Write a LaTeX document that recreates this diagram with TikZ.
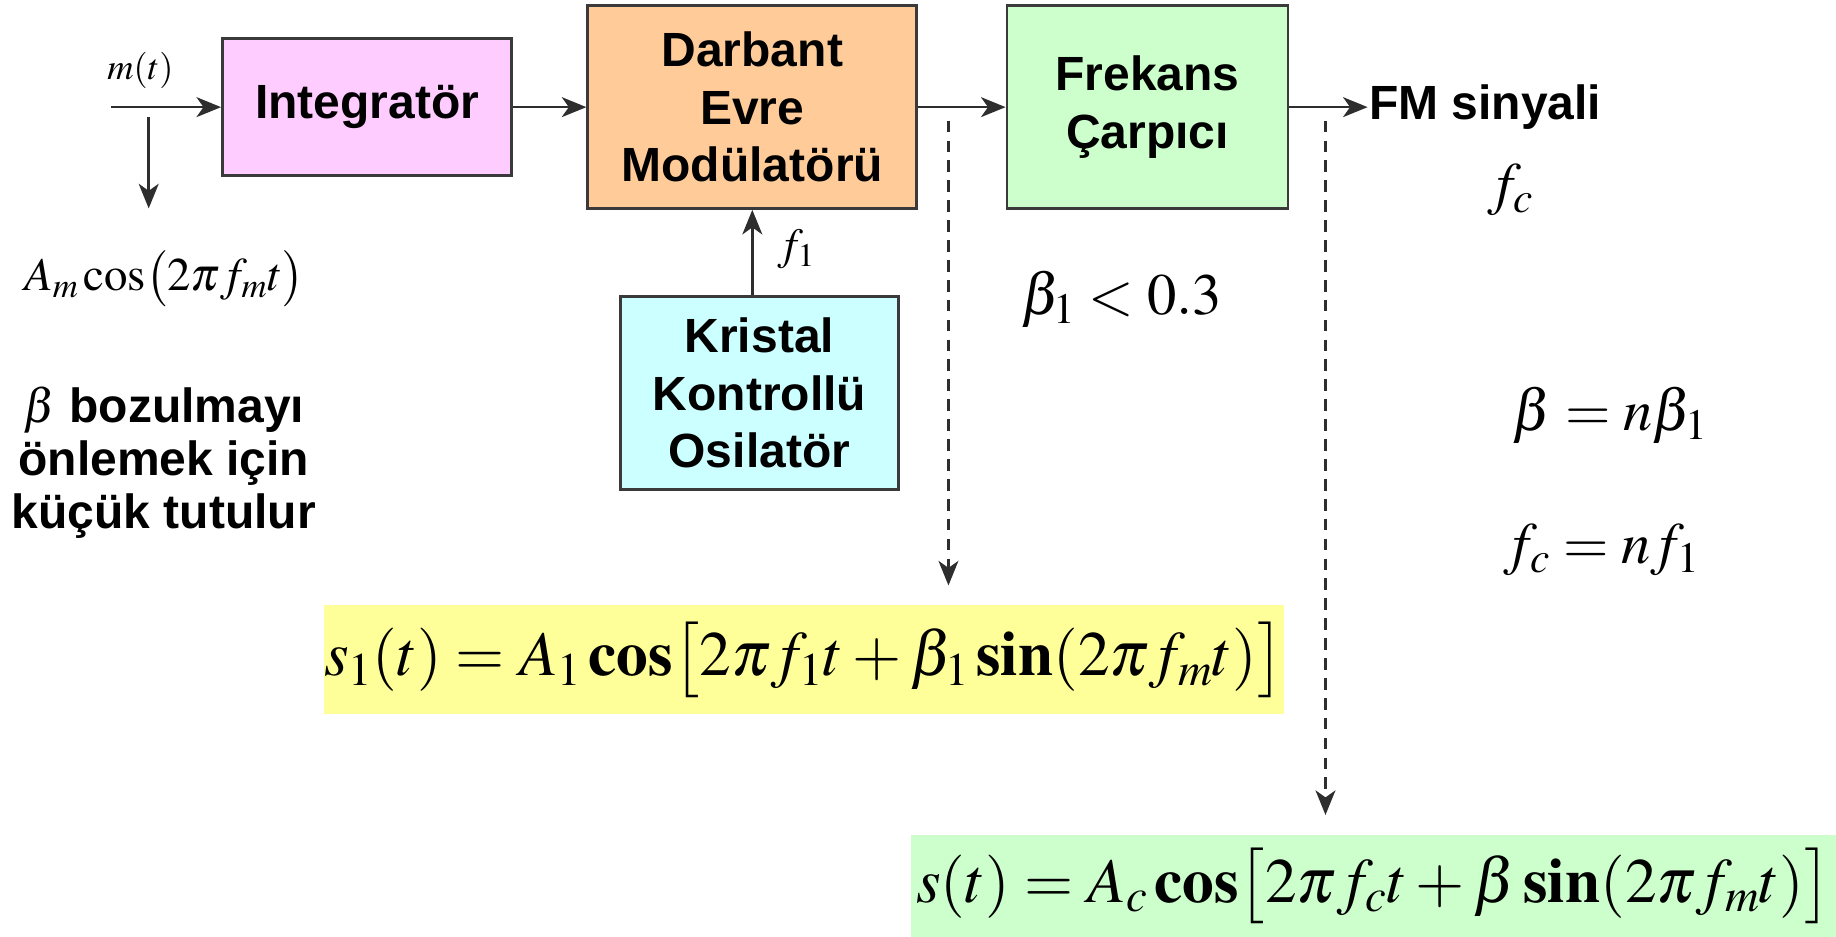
\documentclass[tikz,border=0pt]{standalone}
\usepackage{mathptmx}
\usepackage{amsmath}
\usepackage[no-math]{fontspec}
\setmainfont{Liberation Sans}
\usetikzlibrary{arrows.meta,calc}
\definecolor{pinkf}{HTML}{FFCCFF}
\definecolor{orangef}{HTML}{FFCC99}
\definecolor{greenf}{HTML}{CCFFCC}
\definecolor{cyanf}{HTML}{CCFFFF}
\definecolor{yellowf}{HTML}{FFFF99}
\definecolor{edgec}{HTML}{3A3A3A}
\definecolor{linec}{HTML}{2E2E2E}
\begin{document}
\begin{tikzpicture}[x=1pt,y=-1pt,
  blk/.style={draw=edgec, line width=2.4pt, align=center, inner sep=0pt,
    font=\fontsize{41}{49}\selectfont\bfseries},
  arr/.style={draw=linec, line width=2.3pt, -{Stealth[length=21pt,width=17pt,inset=6pt]}},
  darr/.style={arr, dash pattern=on 10pt off 7pt, line width=2pt},
  lbl/.style={inner sep=1pt, font=\fontsize{41}{45}\selectfont\bfseries, align=center},
  mth/.style={inner sep=1pt, font=\fontsize{50}{54}\selectfont},
  fbox/.style={inner sep=0pt, font=\fontsize{54}{60}\selectfont}]
\useasboundingbox (0,0) rectangle (1568,800);

% blocks
\node[blk, fill=pinkf, minimum width=247pt, minimum height=117pt] (int) at (313.5,91.5) {Integratör};
\node[blk, fill=orangef, minimum width=281pt, minimum height=173pt] (mod) at (642.5,91.5) {Darbant\\Evre\\Modülatörü};
\node[blk, fill=greenf, minimum width=240pt, minimum height=173pt] (frek) at (980,91.5) {Frekans\\Çarpıcı};
\node[blk, fill=cyanf, minimum width=237pt, minimum height=165pt] (kris) at (648.5,335.5) {Kristal\\Kontrollü\\Osilatör};

% input side
\coordinate (in) at (95,91.5);
\node[inner sep=1pt, font=\fontsize{31}{33}\selectfont] (mt) at (120,60) {$m(t)$};
\coordinate (tap) at (127,100);
\coordinate (tapend) at (127,178);
\node[inner sep=1pt, font=\fontsize{40}{44}\selectfont] (am) at (140,238) {$A_m\cos\bigl(2\pi f_m t\bigr)$};
\node[lbl] (note) at (140,395) {$\beta$ bozulmayı\\önlemek için\\küçük tutulur};

% output side
\node[lbl, anchor=west] (fm) at (1168,91.5) {FM sinyali};
\node[mth] (fc) at (1290,162) {$f_c$};
\node[mth, font=\fontsize{38}{40}\selectfont] (f1) at (680,213) {$f_1$};
\node[mth] (b1) at (958,256) {$\beta_1 < 0.3$};
\node[mth] (bn) at (1375,355) {$\beta = n\beta_1$};
\node[mth] (fcn) at (1368,470) {$f_c = nf_1$};

% formula boxes
\node[fbox, fill=yellowf, minimum width=807pt, minimum height=93pt] (yel) at (686.5,563.5)
  {$s_1(t) = A_1\,\mathbf{cos}\bigl[2\pi f_1 t + \beta_1\,\mathbf{sin}(2\pi f_m t)\bigr]$};
\node[fbox, fill=greenf, minimum width=790pt, minimum height=87pt] (grn) at (1173,757)
  {$s(t) = A_c\,\mathbf{cos}\bigl[2\pi f_c t + \beta\,\mathbf{sin}(2\pi f_m t)\bigr]$};

% dashed taps
\coordinate (d1s) at (810,103);
\coordinate (d1e) at (810,500);
\coordinate (d2s) at (1132,103);
\coordinate (d2e) at (1132,696);

% connectors
\draw[arr] (in) -- (int.west);
\draw[arr] (tap) -- (tapend);
\draw[arr] (int.east) -- (mod.west);
\draw[arr] (mod.east) -- (frek.west);
\draw[arr] (frek.east) -- (fm.west);
\draw[arr] (kris.north -| mod.south) -- (mod.south);
\draw[darr] (d1s) -- (d1e);
\draw[darr] (d2s) -- (d2e);
\end{tikzpicture}
\end{document}
